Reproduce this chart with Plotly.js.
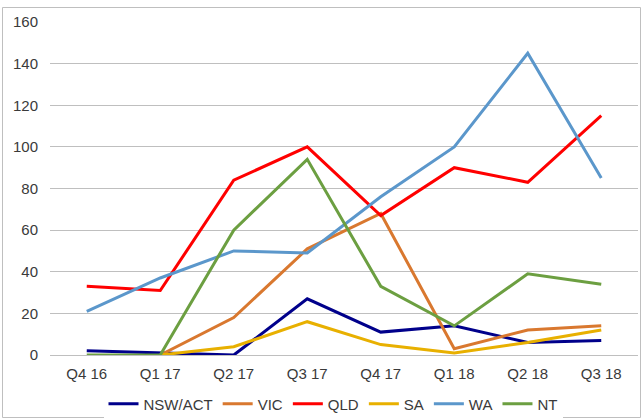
<!DOCTYPE html>
<html>
<head>
<meta charset="utf-8">
<script src="https://cdn.plot.ly/plotly-3.0.1.min.js"></script>
<style>
html,body{margin:0;padding:0;background:#fff;}
#chart{width:642px;height:419px;}
</style>
</head>
<body>
<div id="chart"></div>
<script>
const quarters = ["Q4 16","Q1 17","Q2 17","Q3 17","Q4 17","Q1 18","Q2 18","Q3 18"];
const nswAct = [2, 1, 0, 27, 11, 14, 6, 7];
const vic    = [null, 0, 18, 51, 68, 3, 12, 14];
const qld    = [33, 31, 84, 100, 67, 90, 83, 115];
const sa     = [null, 0, 4, 16, 5, 1, 6, 12];
const wa     = [21, 37, 50, 49, 76, 100, 145, 85];
const nt     = [0, 0, 60, 94, 33, 14, 39, 34];
const yTicks = [0, 20, 40, 60, 80, 100, 120, 140, 160];

const series = [
  {name:"NSW/ACT", y:nswAct, color:"#00008B"},
  {name:"VIC", y:vic, color:"#D9782F"},
  {name:"QLD", y:qld, color:"#FF0000"},
  {name:"SA", y:sa, color:"#E8B000"},
  {name:"WA", y:wa, color:"#5B97CB"},
  {name:"NT", y:nt, color:"#6C9F41"}
];

const traces = series.map(s => ({
  type:"scatter", mode:"lines", name:s.name, x:quarters, y:s.y,
  line:{color:s.color, width:3}, connectgaps:false
}));

const L=50, R=638, T=22, B=355;
const pw=R-L, ph=B-T;
const px = v => (v-L)/pw;
const py = v => (B-v)/ph;

const layout = {
  width:642, height:419,
  margin:{l:L, r:642-R, t:T, b:419-B},
  paper_bgcolor:"#fff", plot_bgcolor:"#fff",
  font:{family:"Liberation Sans, Arial, sans-serif", size:15, color:"#3a3a3a"},
  showlegend:true,
  legend:{orientation:"h", xref:"container", yref:"container", x:333/642, xanchor:"center",
          y:(419-404)/419, yanchor:"middle", font:{size:15, color:"#3a3a3a"},
          itemwidth:30, traceorder:"normal"},
  xaxis:{type:"category", range:[-0.5,7.5], showgrid:false, zeroline:false,
         showline:false, ticks:"", ticklabelstandoff:8, fixedrange:true},
  yaxis:{range:[0,160], tickvals:yTicks, showgrid:true, gridcolor:"#BFBFBF", gridwidth:1,
         zeroline:true, zerolinecolor:"#BFBFBF", zerolinewidth:1, showline:false,
         ticks:"", ticklabelstandoff:11, fixedrange:true},
  shapes:[{type:"rect", xref:"paper", yref:"paper",
           x0:px(2.5), x1:px(640.5), y0:py(417.5), y1:py(7.5),
           line:{color:"#BFBFBF", width:1}, fillcolor:"rgba(0,0,0,0)", layer:"below"}]
};

Plotly.newPlot("chart", traces, layout, {staticPlot:true, displayModeBar:false});
</script>
</body>
</html>
